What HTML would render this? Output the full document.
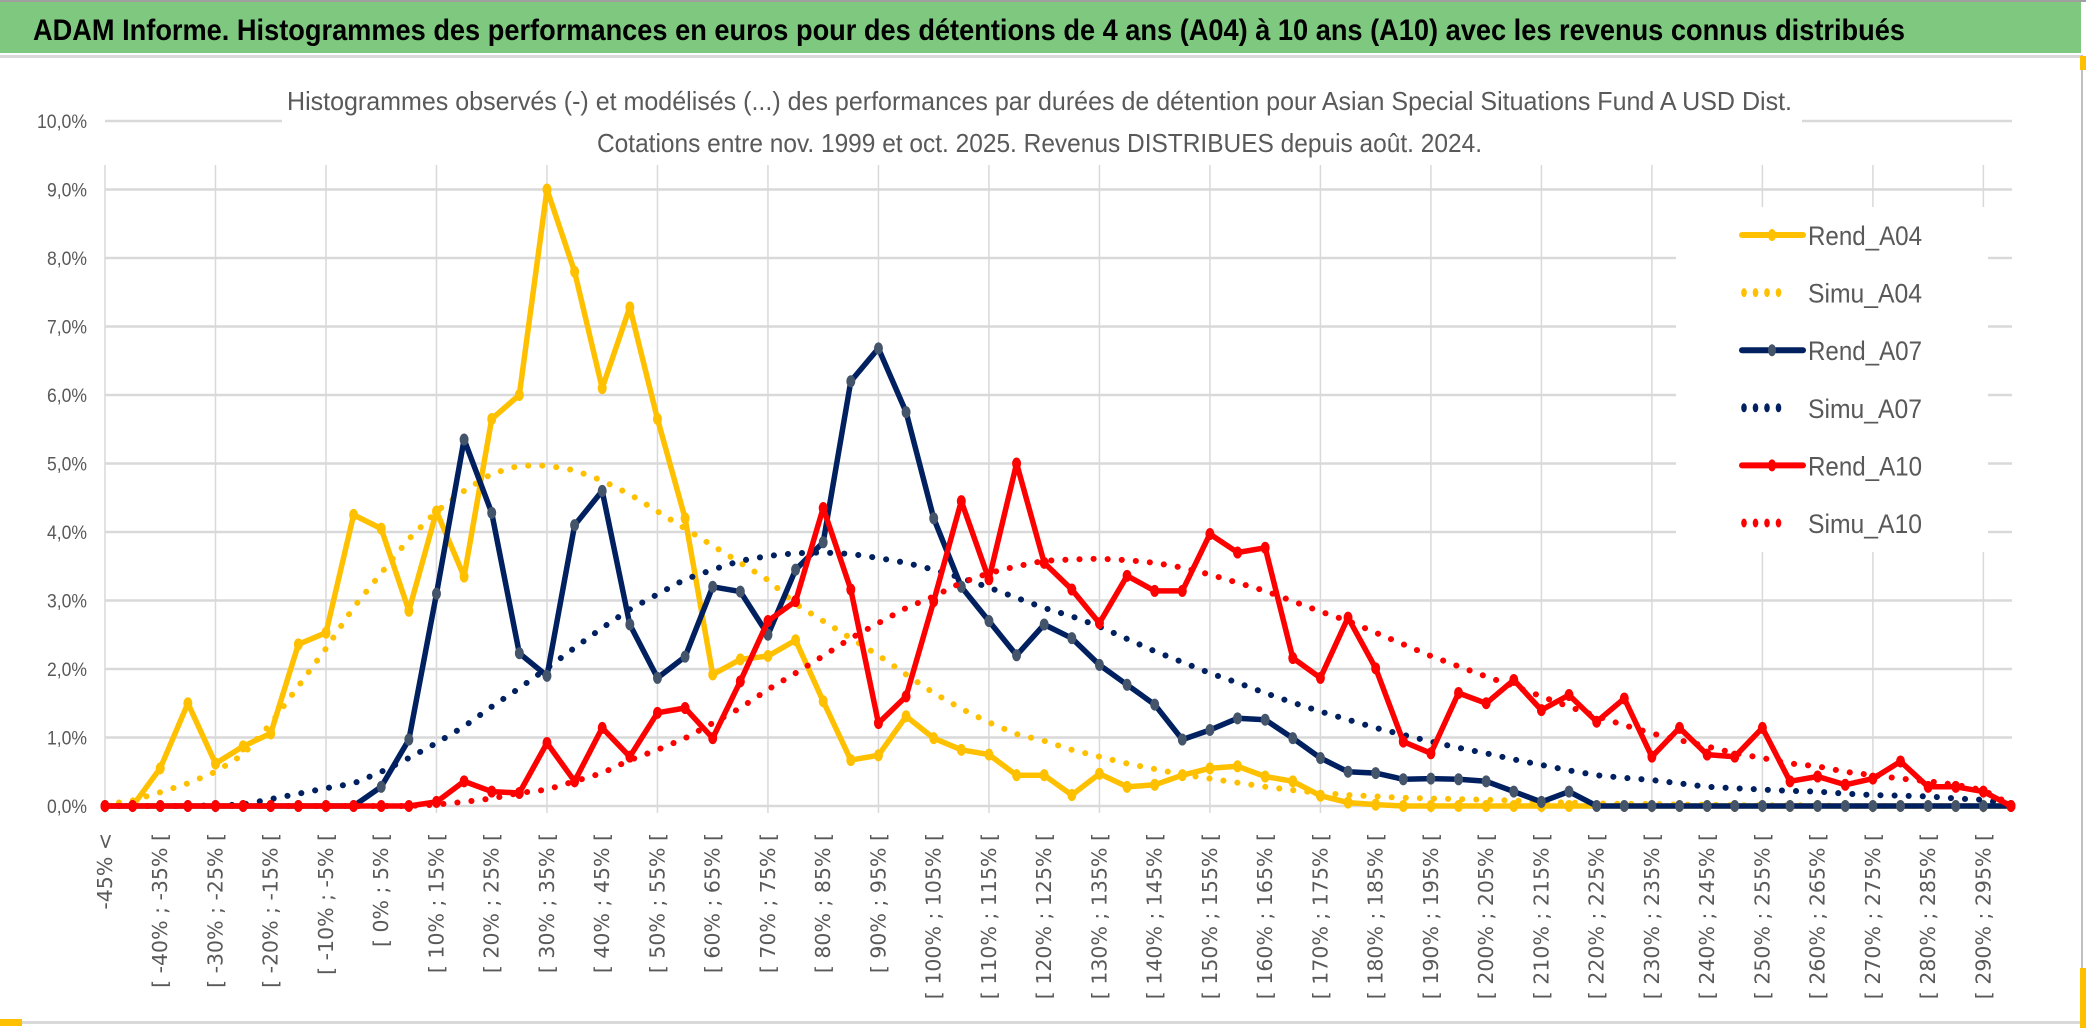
<!DOCTYPE html>
<html><head><meta charset="utf-8"><style>
html,body{margin:0;padding:0;background:#fff;}
svg{display:block;}
</style></head><body>
<svg id="chart" width="2086" height="1033" viewBox="0 0 2086 1033" xmlns="http://www.w3.org/2000/svg">
<rect x="0" y="0" width="2086" height="1033" fill="#fff"/>
<rect x="0" y="0" width="2086" height="2" fill="#a0a0a0"/>
<rect x="0" y="2" width="2081" height="51" fill="#7EC97F"/>
<text x="33" y="40" font-family="'Liberation Sans Narrow','Liberation Sans',sans-serif" font-weight="bold" font-size="30" textLength="1872" lengthAdjust="spacingAndGlyphs" fill="#000">ADAM Informe. Histogrammes des performances en euros pour des détentions de 4 ans (A04) à 10 ans (A10) avec les revenus connus distribués</text>
<rect x="0" y="55" width="2082" height="3" fill="#d9d9d9"/>
<rect x="2081" y="55" width="2" height="968" fill="#bfbfbf"/>
<rect x="0" y="1021" width="2083" height="3" fill="#d9d9d9"/>
<rect x="0" y="1019" width="22" height="7" fill="#FFC000"/>
<rect x="2080" y="56" width="6" height="14" fill="#FFC000"/>
<rect x="2080" y="968" width="6" height="60" fill="#FFC000"/>
<g id="grid"></g>
<rect x="282" y="80" width="1520" height="85" fill="#fff"/>
<text x="287" y="110" font-family="'Liberation Sans Narrow','Liberation Sans',sans-serif" font-size="26" textLength="1505" lengthAdjust="spacingAndGlyphs" fill="#595959">Histogrammes observés (-) et modélisés (...) des performances par durées de détention pour Asian Special Situations Fund A USD Dist.</text>
<text x="597" y="152" font-family="'Liberation Sans Narrow','Liberation Sans',sans-serif" font-size="26" textLength="885" lengthAdjust="spacingAndGlyphs" fill="#595959">Cotations entre nov. 1999 et oct. 2025. Revenus DISTRIBUES depuis août. 2024.</text>
<g id="yaxis"></g>
<g id="xaxis"></g>
<g id="series"></g>
<rect x="1676" y="207" width="312" height="345" fill="#fff"/>
<g id="legend"></g>
</svg>
<script>
const yTicks = [0,1,2,3,4,5,6,7,8,9,10];
const rendA04 = [0,0,0.55,1.5,0.62,0.87,1.06,2.36,2.53,4.25,4.05,2.85,4.3,3.35,5.65,6.0,9.0,7.8,6.1,7.28,5.65,4.2,1.92,2.14,2.19,2.42,1.53,0.67,0.74,1.31,0.99,0.82,0.75,0.45,0.45,0.16,0.47,0.28,0.31,0.45,0.55,0.58,0.43,0.36,0.15,0.05,0.02,0,0,0,0,0,0,0,0,0,0,0,0,0,0,0,0,0,0,0,0,0,0,0];
const simuA04 = [0.02,0.08,0.2,0.33,0.5,0.75,1.2,1.75,2.3,2.9,3.4,3.9,4.3,4.6,4.85,4.97,4.97,4.9,4.75,4.55,4.3,4.05,3.8,3.55,3.3,2.95,2.7,2.45,2.2,1.92,1.65,1.42,1.22,1.05,0.95,0.82,0.72,0.62,0.54,0.46,0.4,0.34,0.28,0.23,0.19,0.16,0.14,0.12,0.11,0.1,0.09,0.08,0.06,0.05,0.04,0.03,0.03,0.02,0.02,0.01,0.01,0.01,0.01,0,0,0,0,0,0,0];
const rendA07 = [0,0,0,0,0,0,0,0,0,0,0.28,0.97,3.1,5.35,4.28,2.23,1.9,4.1,4.6,2.65,1.87,2.18,3.2,3.13,2.5,3.45,3.85,6.2,6.68,5.75,4.2,3.2,2.7,2.2,2.65,2.45,2.06,1.77,1.48,0.97,1.11,1.28,1.26,0.99,0.7,0.5,0.48,0.39,0.4,0.39,0.36,0.21,0.06,0.21,0,0,0,0,0,0,0,0,0,0,0,0,0,0,0,0];
const simuA07 = [0,0,0,0,0.01,0.02,0.1,0.18,0.26,0.33,0.5,0.7,0.92,1.16,1.45,1.72,2.01,2.31,2.6,2.87,3.09,3.31,3.45,3.58,3.65,3.69,3.7,3.68,3.62,3.55,3.45,3.33,3.19,3.04,2.89,2.77,2.62,2.44,2.26,2.1,1.94,1.8,1.65,1.51,1.38,1.26,1.14,1.04,0.94,0.85,0.77,0.68,0.6,0.52,0.45,0.41,0.38,0.33,0.28,0.26,0.24,0.22,0.21,0.18,0.16,0.15,0.14,0.11,0.09,0.02];
const rendA10 = [0,0,0,0,0,0,0,0,0,0,0,0,0.06,0.36,0.21,0.19,0.92,0.36,1.14,0.72,1.36,1.43,0.99,1.82,2.7,2.99,4.35,3.16,1.21,1.6,2.99,4.45,3.31,5.0,3.55,3.16,2.67,3.36,3.14,3.14,3.97,3.7,3.77,2.16,1.87,2.75,2.01,0.94,0.77,1.65,1.5,1.84,1.4,1.62,1.23,1.57,0.72,1.14,0.75,0.72,1.14,0.36,0.43,0.31,0.4,0.65,0.28,0.28,0.21,0];
const simuA10 = [0,0,0,0,0,0,0,0,0,0,0,0,0.02,0.06,0.11,0.19,0.24,0.36,0.48,0.67,0.82,0.99,1.21,1.43,1.7,1.94,2.19,2.45,2.67,2.89,3.06,3.26,3.4,3.5,3.58,3.6,3.61,3.59,3.55,3.48,3.38,3.26,3.14,2.99,2.84,2.7,2.53,2.36,2.19,2.04,1.89,1.75,1.6,1.45,1.31,1.18,1.06,0.96,0.87,0.77,0.7,0.62,0.58,0.5,0.45,0.4,0.36,0.31,0.23,0.02];
const seriesNames = ["Rend_A04","Simu_A04","Rend_A07","Simu_A07","Rend_A10","Simu_A10"];

const NS = "http://www.w3.org/2000/svg";
const N = rendA04.length;
const X0 = 105, X1 = 2011, Y0 = 806, Y10 = 121;
function xPos(i){ return X0 + (X1 - X0) * i / (N - 1); }
function yPos(v){ return Y0 - (Y0 - Y10) * v / 10; }
function mk(tag, attrs, parent){ const e = document.createElementNS(NS, tag); for (const k in attrs) e.setAttribute(k, attrs[k]); parent.appendChild(e); return e; }
function catLabel(i){ if (i === 0) return "-45% <"; const lo = -45 + 5 * (i - 1); return "[ " + lo + "% ; " + (lo + 5) + "% ["; }

const grid = document.getElementById('grid');
yTicks.forEach(t => {
  const l = mk('line', {x1: X0, x2: X1 + 1, y1: yPos(t), y2: yPos(t), stroke: '#d9d9d9', 'stroke-width': 2.5}, grid);
  
  
});
for (let i = 0; i < N; i += 4) {
  const l = mk('line', {x1: xPos(i), x2: xPos(i), y1: 165, y2: 813, stroke: '#d9d9d9', 'stroke-width': 1.5}, grid);
  
  
}

const yaxis = document.getElementById('yaxis');
yTicks.forEach(t => {
  const s = t.toFixed(1).replace('.', ',') + '%';
  const tx = mk('text', {x: 87, y: yPos(t) + 7, 'text-anchor': 'end', 'font-family': "'Liberation Sans Narrow','Liberation Sans',sans-serif", 'font-size': 19, fill: '#595959', textLength: t === 10 ? 50 : 40, lengthAdjust: 'spacingAndGlyphs'}, yaxis);
  tx.textContent = s;
  
  
});

const xaxis = document.getElementById('xaxis');
for (let i = 0; i < N; i += 2) {
  const x = xPos(i) + 7;
  const tx = mk('text', {x: x, y: 833, transform: 'rotate(-90 ' + x + ' 833)', 'text-anchor': 'end', 'font-family': "'DejaVu Sans',sans-serif", 'font-size': 20.5, fill: '#595959'}, xaxis);
  tx.textContent = catLabel(i);
  
  
}

const series = document.getElementById('series');
function pts(arr){ return arr.map((v, i) => xPos(i).toFixed(1) + ',' + yPos(v).toFixed(1)).join(' '); }
function drawRend(arr, color, marker, name){
  const g = mk('g', {}, series);
  
  
  mk('polyline', {points: pts(arr), fill: 'none', stroke: color, 'stroke-width': 5.5, 'stroke-linejoin': 'round'}, g);
  arr.forEach((v, i) => {
    const c = mk('ellipse', {cx: xPos(i), cy: yPos(v), rx: 4, ry: 5.5, fill: marker, stroke: marker}, g);
    
    
  });
}
function drawSimu(arr, color, name){
  const p = mk('polyline', {points: pts(arr), fill: 'none', stroke: color, 'stroke-width': 6, 'stroke-linecap': 'round', 'stroke-dasharray': '0.1 14'}, series);
  
  
}
drawRend(rendA04, '#FFC000', '#FFC000', 'rend-a04-line');
drawSimu(simuA04, '#FFC000', 'simu-a04-line');
drawRend(rendA07, '#002060', '#44546A', 'rend-a07-line');
drawSimu(simuA07, '#002060', 'simu-a07-line');
drawRend(rendA10, '#FF0000', '#FF0000', 'rend-a10-line');
drawSimu(simuA10, '#FF0000', 'simu-a10-line');

const legend = document.getElementById('legend');
const legColors = ['#FFC000','#FFC000','#002060','#002060','#FF0000','#FF0000'];
const legMarkers = ['#FFC000',null,'#44546A',null,'#FF0000',null];
seriesNames.forEach((nm, k) => {
  const y = 235 + 57.6 * k;
  const g = mk('g', {}, legend);
  
  
  if (legMarkers[k]) {
    mk('line', {x1: 1742, x2: 1803, y1: y, y2: y, stroke: legColors[k], 'stroke-width': 6, 'stroke-linecap': 'round'}, g);
    mk('ellipse', {cx: 1772, cy: y, rx: 4, ry: 6, fill: legMarkers[k]}, g);
  } else {
    for (let d = 0; d < 4; d++) mk('ellipse', {cx: 1744 + d * 11.5, cy: y, rx: 2.8, ry: 4.5, fill: legColors[k]}, g);
  }
  const t = mk('text', {x: 1808, y: y + 10, 'font-family': "'Liberation Sans Narrow','Liberation Sans',sans-serif", 'font-size': 27, fill: '#595959', textLength: 114, lengthAdjust: 'spacingAndGlyphs'}, g);
  t.textContent = nm;
});
</script>
</body></html>
